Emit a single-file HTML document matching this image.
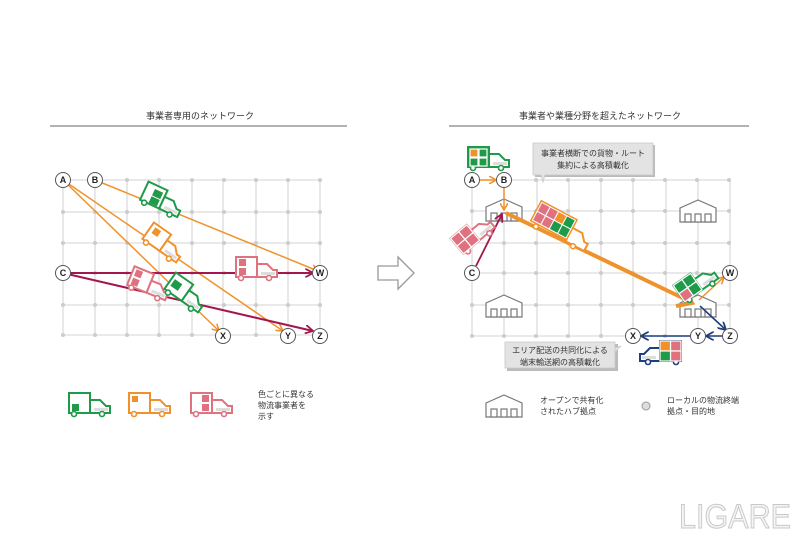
<!DOCTYPE html>
<html><head><meta charset="utf-8"><style>
html,body{margin:0;padding:0;background:#fff;}
svg{display:block;font-family:"Liberation Sans","Noto Sans CJK JP",sans-serif;}
</style></head><body>
<svg width="800" height="533" viewBox="0 0 800 533" xmlns="http://www.w3.org/2000/svg">
<defs>
<g id="tr">
<rect x="1" y="1" width="21" height="20" fill="#fff" stroke="currentColor" stroke-width="2"/>
<path d="M22 8 H32 L38 14 H42 V21 H22Z" fill="#fff" stroke="currentColor" stroke-width="2"/>
<path d="M26 16 H40 V19 H26Z" fill="#ddd"/>
<circle cx="6" cy="22" r="2.5" fill="#fff" stroke="currentColor" stroke-width="1.6"/>
<circle cx="34" cy="22" r="2.5" fill="#fff" stroke="currentColor" stroke-width="1.6"/>
</g>
<g id="hub" fill="#fff" stroke="#777" stroke-width="1.2">
<path d="M0 8 L18 0 L36 8 V22 H0Z"/>
<rect x="5" y="14" width="6" height="8"/><rect x="15" y="14" width="6" height="8"/><rect x="25" y="14" width="6" height="8"/>
</g>
<g id="dotsrow" fill="#ccc"><circle cx="0" cy="0" r="2"/><circle cx="32" cy="0" r="2"/><circle cx="64" cy="0" r="2"/><circle cx="96" cy="0" r="2"/><circle cx="129" cy="0" r="2"/><circle cx="161" cy="0" r="2"/><circle cx="193" cy="0" r="2"/><circle cx="225" cy="0" r="2"/><circle cx="257" cy="0" r="2"/></g>
<marker id="ao" markerWidth="8" markerHeight="8" refX="7" refY="4" orient="auto" markerUnits="userSpaceOnUse"><path d="M0 0 L7 4 L0 8" fill="none" stroke="#f0922b" stroke-width="1.6"/></marker>
<marker id="ar" markerWidth="9" markerHeight="9" refX="8" refY="4.5" orient="auto" markerUnits="userSpaceOnUse"><path d="M0 0 L8 4.5 L0 9" fill="none" stroke="#a3174f" stroke-width="1.8"/></marker>
<marker id="ab" markerWidth="9" markerHeight="9" refX="8" refY="4.5" orient="auto" markerUnits="userSpaceOnUse"><path d="M0 0 L8 4.5 L0 9" fill="none" stroke="#1f3e7e" stroke-width="1.8"/></marker>
</defs>

<!-- Titles -->
<text x="200" y="119" font-size="9" text-anchor="middle" fill="#333">事業者専用のネットワーク</text>
<line x1="50" y1="126" x2="347" y2="126" stroke="#666" stroke-width="1"/>
<text x="600" y="119" font-size="9" text-anchor="middle" fill="#333">事業者や業種分野を超えたネットワーク</text>
<line x1="449" y1="126" x2="749" y2="126" stroke="#666" stroke-width="1"/>

<!-- Left grid -->
<g stroke="#dcdcdc" stroke-width="1.3">
<line x1="63" y1="180" x2="320" y2="180"/><line x1="63" y1="212" x2="320" y2="212"/><line x1="63" y1="243" x2="320" y2="243"/><line x1="63" y1="273" x2="320" y2="273"/><line x1="63" y1="305" x2="320" y2="305"/><line x1="63" y1="335" x2="320" y2="335"/>
<line x1="63" y1="180" x2="63" y2="335"/><line x1="95" y1="180" x2="95" y2="335"/><line x1="127" y1="180" x2="127" y2="335"/><line x1="159" y1="180" x2="159" y2="335"/><line x1="192" y1="180" x2="192" y2="335"/><line x1="223" y1="180" x2="223" y2="335"/><line x1="256" y1="180" x2="256" y2="335"/><line x1="288" y1="180" x2="288" y2="335"/><line x1="320" y1="180" x2="320" y2="335"/>
</g>
<use href="#dotsrow" x="63" y="180"/><use href="#dotsrow" x="63" y="212"/><use href="#dotsrow" x="63" y="243"/><use href="#dotsrow" x="63" y="273"/><use href="#dotsrow" x="63" y="305"/><use href="#dotsrow" x="63" y="335"/>
<!-- Right grid -->
<g stroke="#dcdcdc" stroke-width="1.3">
<line x1="472" y1="180" x2="730" y2="180"/><line x1="472" y1="211" x2="730" y2="211"/><line x1="472" y1="243" x2="730" y2="243"/><line x1="472" y1="273" x2="730" y2="273"/><line x1="472" y1="305" x2="730" y2="305"/><line x1="472" y1="336" x2="730" y2="336"/>
<line x1="472" y1="180" x2="472" y2="336"/><line x1="504" y1="180" x2="504" y2="336"/><line x1="537" y1="180" x2="537" y2="336"/><line x1="569" y1="180" x2="569" y2="336"/><line x1="601" y1="180" x2="601" y2="336"/><line x1="633" y1="180" x2="633" y2="336"/><line x1="666" y1="180" x2="666" y2="336"/><line x1="698" y1="180" x2="698" y2="336"/><line x1="730" y1="180" x2="730" y2="336"/>
</g>
<use href="#dotsrow" x="472" y="180"/><use href="#dotsrow" x="472" y="211"/><use href="#dotsrow" x="472" y="243"/><use href="#dotsrow" x="472" y="273"/><use href="#dotsrow" x="472" y="305"/><use href="#dotsrow" x="472" y="336"/>

<!-- Left arrows -->
<g fill="none" stroke-width="1.5">
<line x1="95" y1="180" x2="318" y2="271" stroke="#f0922b" marker-end="url(#ao)"/>
<line x1="63" y1="180" x2="283" y2="331" stroke="#f0922b" marker-end="url(#ao)"/>
<line x1="63" y1="180" x2="219" y2="331" stroke="#f0922b" marker-end="url(#ao)"/>
<line x1="63" y1="273" x2="313" y2="273" stroke="#a3174f" stroke-width="2" marker-end="url(#ar)"/>
<line x1="63" y1="273" x2="313" y2="331" stroke="#a3174f" stroke-width="2" marker-end="url(#ar)"/>
</g>
<!-- Left trucks -->
<g transform="translate(162,200) rotate(25) translate(-21,-12)" color="#1e9a48"><use href="#tr"/><rect x="10" y="5" width="9" height="7" fill="#1e9a48"/><rect x="10" y="13" width="9" height="7" fill="#1e9a48"/></g>
<g transform="translate(164,243) rotate(35) translate(-21,-12)" color="#f0922b"><use href="#tr"/><rect x="5" y="4" width="7" height="7" fill="#f0922b"/></g>
<g transform="translate(235,256)" color="#e0727f"><use href="#tr"/><rect x="4" y="3" width="7" height="7" fill="#e0727f"/><rect x="4" y="12" width="7" height="7" fill="#e0727f"/></g>
<g transform="translate(149,284) rotate(22) translate(-21,-12)" color="#e0727f"><use href="#tr"/><rect x="4" y="3" width="7" height="7" fill="#e0727f"/><rect x="4" y="12" width="7" height="7" fill="#e0727f"/></g>
<g transform="translate(186,293) rotate(35) translate(-21,-12)" color="#1e9a48"><use href="#tr"/><rect x="4" y="7" width="9" height="8" fill="#1e9a48"/></g>

<!-- Left nodes -->
<g font-size="9" font-weight="bold" text-anchor="middle" fill="#222">
<g fill="#fff" stroke="#555" stroke-width="1"><circle cx="63" cy="180" r="7.5"/><circle cx="95" cy="180" r="7.5"/><circle cx="63" cy="273" r="7.5"/><circle cx="320" cy="273" r="7.5"/><circle cx="223" cy="336" r="7.5"/><circle cx="288" cy="336" r="7.5"/><circle cx="320" cy="336" r="7.5"/></g>
<text x="63" y="183">A</text><text x="95" y="183">B</text><text x="63" y="276">C</text><text x="320" y="276">W</text><text x="223" y="339">X</text><text x="288" y="339">Y</text><text x="320" y="339">Z</text>
</g>

<!-- Middle arrow -->
<path d="M378 266 H398 V257 L414 273 L398 289 V280 H378Z" fill="#fff" stroke="#999" stroke-width="1.3"/>

<!-- Right hubs -->
<use href="#hub" x="486" y="199"/>
<use href="#hub" x="680" y="200"/>
<use href="#hub" x="486" y="295"/>
<use href="#hub" x="680" y="295"/>

<!-- Right arrows -->
<g fill="none">
<line x1="479" y1="180" x2="496" y2="180" stroke="#f0922b" stroke-width="1.5" marker-end="url(#ao)"/>
<line x1="504" y1="187" x2="504" y2="210" stroke="#f0922b" stroke-width="1.5" marker-end="url(#ao)"/>
<line x1="476" y1="266" x2="502" y2="214" stroke="#a3174f" stroke-width="1.8" marker-end="url(#ar)"/>
<line x1="506" y1="213" x2="689" y2="301" stroke="#f0922b" stroke-width="4"/>
<polyline points="683,289 692,303 676,306" stroke="#f0922b" stroke-width="4" stroke-linejoin="miter"/>
<line x1="699" y1="300" x2="724" y2="277" stroke="#f0922b" stroke-width="1.5" marker-end="url(#ao)"/>
<line x1="700" y1="306" x2="726" y2="330" stroke="#1f3e7e" stroke-width="1.6" marker-end="url(#ab)"/>
<line x1="723" y1="336" x2="706" y2="336" stroke="#1f3e7e" stroke-width="1.6" marker-end="url(#ab)"/>
<line x1="691" y1="336" x2="641" y2="336" stroke="#1f3e7e" stroke-width="1.6" marker-end="url(#ab)"/>
</g>

<!-- Right trucks -->
<g transform="translate(467,146)" color="#1e9a48"><use href="#tr"/><rect x="2" y="2" width="19" height="18" fill="#1e9a48"/><g stroke="#fff" stroke-width="1.2"><rect x="3" y="3" width="8" height="8" fill="#f0922b"/><rect x="12" y="3" width="8" height="8" fill="#1e9a48"/><rect x="3" y="12" width="8" height="8" fill="#1e9a48"/><rect x="12" y="12" width="8" height="8" fill="#1e9a48"/></g></g>

<g transform="translate(560,228) rotate(28) translate(-30,-16)" color="#f0922b">
<rect x="1" y="1" width="40" height="22" fill="#f0922b" stroke="#f0922b" stroke-width="2"/>
<path d="M41 10 H52 L58 17 H62 V25 H41Z" fill="#fff" stroke="#f0922b" stroke-width="2"/>
<circle cx="8" cy="26" r="2.5" fill="#fff" stroke="#f0922b" stroke-width="1.5"/><circle cx="50" cy="26" r="2.5" fill="#fff" stroke="#f0922b" stroke-width="1.5"/>
<g stroke="#fff" stroke-width="1"><rect x="2" y="2" width="9.5" height="10" fill="#e0727f"/><rect x="11.5" y="2" width="9.5" height="10" fill="#e0727f"/><rect x="21" y="2" width="9.5" height="10" fill="#f0922b"/><rect x="30.5" y="2" width="9.5" height="10" fill="#1e9a48"/><rect x="2" y="12" width="9.5" height="10" fill="#e0727f"/><rect x="11.5" y="12" width="9.5" height="10" fill="#e0727f"/><rect x="21" y="12" width="9.5" height="10" fill="#1e9a48"/><rect x="30.5" y="12" width="9.5" height="10" fill="#1e9a48"/></g>
</g>

<g transform="translate(473,234) rotate(-40) translate(-21,-12)" color="#e0727f"><use href="#tr"/><g stroke="#fff" stroke-width="1.2"><rect x="1" y="1" width="10.5" height="10" fill="#e0727f"/><rect x="11.5" y="1" width="10.5" height="10" fill="#e0727f"/><rect x="1" y="11" width="10.5" height="10" fill="#e0727f"/><rect x="11.5" y="11" width="10.5" height="10" fill="#e0727f"/></g></g>

<g transform="translate(696,283) rotate(-35) translate(-21,-12)" color="#1e9a48"><use href="#tr"/><g stroke="#fff" stroke-width="1.2"><rect x="1" y="1" width="10.5" height="10" fill="#1e9a48"/><rect x="11.5" y="1" width="10.5" height="10" fill="#1e9a48"/><rect x="1" y="11" width="10.5" height="10" fill="#e0727f"/><rect x="11.5" y="11" width="10.5" height="10" fill="#1e9a48"/></g></g>

<g transform="translate(682,340) scale(-1,1)" color="#1f3e7e"><use href="#tr"/><g stroke="#fff" stroke-width="1.2"><rect x="1" y="1" width="10.5" height="10" fill="#e0727f"/><rect x="11.5" y="1" width="10.5" height="10" fill="#f0922b"/><rect x="1" y="11" width="10.5" height="10" fill="#e0727f"/><rect x="11.5" y="11" width="10.5" height="10" fill="#1e9a48"/></g></g>

<!-- Right nodes -->
<g font-size="9" font-weight="bold" text-anchor="middle" fill="#222">
<g fill="#fff" stroke="#555" stroke-width="1"><circle cx="472" cy="180" r="7.5"/><circle cx="504" cy="180" r="7.5"/><circle cx="472" cy="273" r="7.5"/><circle cx="730" cy="273" r="7.5"/><circle cx="633" cy="336" r="7.5"/><circle cx="698" cy="336" r="7.5"/><circle cx="730" cy="336" r="7.5"/></g>
<text x="472" y="183">A</text><text x="504" y="183">B</text><text x="472" y="276">C</text><text x="730" y="276">W</text><text x="633" y="339">X</text><text x="698" y="339">Y</text><text x="730" y="339">Z</text>
</g>

<!-- Callouts -->
<rect x="535" y="145" width="120" height="32" fill="#bbb"/>
<path d="M533 143 H653 V175 H545 L543 182 L541 175 H533Z" fill="#e3e3e3" stroke="#c8c8c8" stroke-width="0.8"/>
<text x="593" y="156" font-size="8" text-anchor="middle" fill="#333">事業者横断での貨物・ルート</text>
<text x="593" y="168" font-size="8" text-anchor="middle" fill="#333">集約による高積載化</text>

<rect x="507" y="344" width="111" height="27" fill="#bbb"/>
<path d="M505 342 H615 V368 H505Z M615 348 L621 346 L615 352" fill="#e3e3e3" stroke="#c8c8c8" stroke-width="0.8"/>
<text x="560" y="353" font-size="8" text-anchor="middle" fill="#333">エリア配送の共同化による</text>
<text x="560" y="365" font-size="8" text-anchor="middle" fill="#333">端末輸送網の高積載化</text>

<!-- Legend left -->
<g transform="translate(68,392)" color="#1e9a48"><use href="#tr"/><rect x="4" y="12" width="7" height="7" fill="#1e9a48"/></g>
<g transform="translate(128,392)" color="#f0922b"><use href="#tr"/><rect x="4" y="4" width="6" height="6" fill="#f0922b"/></g>
<g transform="translate(190,392)" color="#e0727f"><use href="#tr"/><rect x="12" y="3" width="7" height="7" fill="#e0727f"/><rect x="12" y="12" width="7" height="7" fill="#e0727f"/></g>
<g font-size="8" fill="#333"><text x="258" y="397">色ごとに異なる</text><text x="258" y="408">物流事業者を</text><text x="258" y="419">示す</text></g>

<!-- Legend right -->
<use href="#hub" x="486" y="395"/>
<g font-size="8" fill="#333"><text x="540" y="403">オープンで共有化</text><text x="540" y="414">されたハブ拠点</text>
<text x="667" y="403">ローカルの物流終端</text><text x="667" y="414">拠点・目的地</text></g>
<circle cx="646" cy="406" r="4" fill="#ddd" stroke="#999" stroke-width="1"/>

<!-- LIGARE -->
<text x="735" y="528" font-size="34" text-anchor="middle" fill="#f4f4f4" stroke="#c8c8c8" stroke-width="1" font-family="Liberation Sans Narrow, Liberation Sans, sans-serif" textLength="112" lengthAdjust="spacingAndGlyphs">LIGARE</text>
</svg>
</body></html>
